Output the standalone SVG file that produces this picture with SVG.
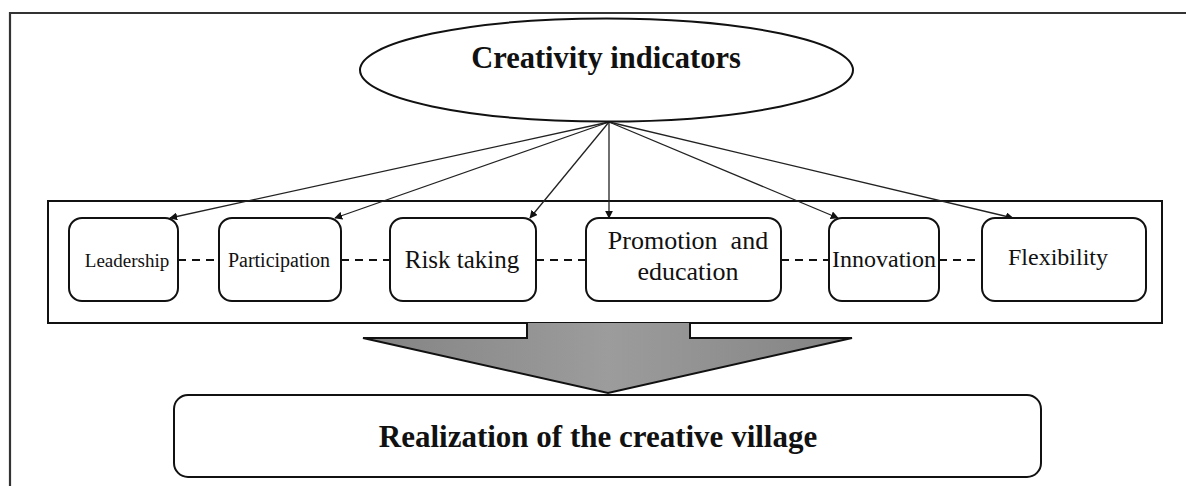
<svg xmlns="http://www.w3.org/2000/svg" width="1186" height="486" viewBox="0 0 1186 486">
  <defs>
    <style>
      .frame { fill: none; stroke: #333; stroke-width: 2.2; }
      .box { fill: #fff; stroke: #111; stroke-width: 2; }
      .lbl { font-family: "Liberation Serif", "Times New Roman", serif; fill: #111; text-anchor: middle; }
      .bold { font-weight: bold; }
      .fan { fill: none; stroke: #222; stroke-width: 1.3; marker-end: url(#ah); }
      .dash { fill: none; stroke: #111; stroke-width: 2; stroke-dasharray: 8 6; }
    </style>
    <marker id="ah" viewBox="0 0 10 10" refX="9" refY="5" markerWidth="8" markerHeight="8" markerUnits="userSpaceOnUse" orient="auto">
      <path d="M0,0 L10,5 L0,10 z" fill="#111"/>
    </marker>
    <linearGradient id="gg" x1="0" y1="0" x2="1" y2="0">
      <stop offset="0" stop-color="#838383"/>
      <stop offset="0.5" stop-color="#9c9c9c"/>
      <stop offset="1" stop-color="#838383"/>
    </linearGradient>
  </defs>
  <rect x="0" y="0" width="1186" height="486" fill="#fff"/>
  <path class="frame" d="M10,486 V13 H1186"/>

  <rect id="container" x="48" y="201" width="1114" height="122" fill="#fff" stroke="#111" stroke-width="2"/>

  <g id="connectors">
    <line class="fan" x1="609" y1="122" x2="170" y2="218"/>
    <line class="fan" x1="609" y1="122" x2="335" y2="218"/>
    <line class="fan" x1="609" y1="122" x2="530" y2="218"/>
    <line class="fan" x1="609" y1="122" x2="609" y2="218"/>
    <line class="fan" x1="609" y1="122" x2="838" y2="218"/>
    <line class="fan" x1="609" y1="122" x2="1013" y2="218"/>
    <line class="dash" x1="178" y1="260" x2="219" y2="260"/>
    <line class="dash" x1="341" y1="260" x2="390" y2="260"/>
    <line class="dash" x1="536" y1="260" x2="586" y2="260"/>
    <line class="dash" x1="781" y1="260" x2="829" y2="260"/>
    <line class="dash" x1="939" y1="260" x2="982" y2="260"/>
  </g>

  <g id="creativity-indicators">
    <ellipse cx="606.5" cy="70" rx="246.5" ry="51.5" fill="#fff" stroke="#111" stroke-width="2"/>
    <text class="lbl bold" x="606" y="68" font-size="30.5">Creativity indicators</text>
  </g>

  <g id="leadership">
    <rect class="box" x="69" y="218" width="109" height="83" rx="13"/>
    <text class="lbl" x="127" y="267" font-size="19">Leadership</text>
  </g>
  <g id="participation">
    <rect class="box" x="219" y="218" width="122" height="83" rx="13"/>
    <text class="lbl" x="279" y="267" font-size="20">Participation</text>
  </g>
  <g id="risk-taking">
    <rect class="box" x="390" y="218" width="146" height="83" rx="13"/>
    <text class="lbl" x="462" y="268" font-size="25">Risk taking</text>
  </g>
  <g id="promotion-education">
    <rect class="box" x="586" y="218" width="195" height="83" rx="13"/>
    <text class="lbl" x="688" y="249" font-size="26" xml:space="preserve">Promotion  and</text>
    <text class="lbl" x="688" y="280" font-size="26">education</text>
  </g>
  <g id="innovation">
    <rect class="box" x="829" y="218" width="110" height="83" rx="13"/>
    <text class="lbl" x="884" y="267" font-size="24">Innovation</text>
  </g>
  <g id="flexibility">
    <rect class="box" x="982" y="218" width="164" height="83" rx="13"/>
    <text class="lbl" x="1058" y="265" font-size="24">Flexibility</text>
  </g>

  <g id="big-arrow">
    <path d="M527,323 V338 H363 L608,393 L852,338 H690 V323" fill="url(#gg)" stroke="#111" stroke-width="2" stroke-linejoin="miter"/>
  </g>

  <g id="realization">
    <rect class="box" x="174" y="395" width="867" height="82" rx="14"/>
    <text class="lbl bold" x="598" y="447" font-size="31">Realization of the creative village</text>
  </g>
</svg>
